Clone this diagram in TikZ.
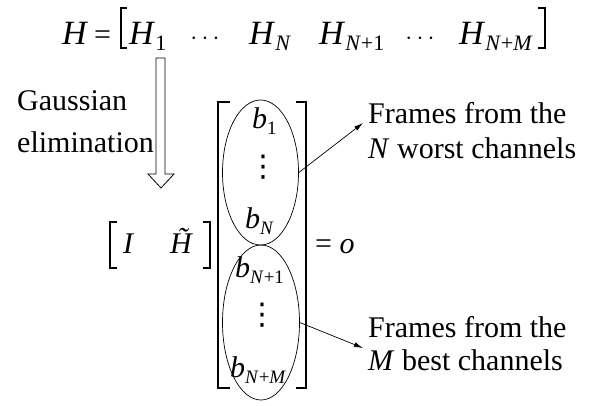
\documentclass[tikz,border=0pt]{standalone}
\usepackage{fontspec}
\setmainfont{Liberation Serif}
\newfontfamily\symf{DejaVu Sans}
\usetikzlibrary{shapes.geometric,arrows.meta}

% italic letter with a lowered, smaller subscript
\newcommand{\vb}[2]{\textit{#1}\raisebox{-6pt}{\fontsize{19}{19}\selectfont #2}}
\newcommand{\vbig}[2]{\textit{#1}\raisebox{-6pt}{\fontsize{22}{22}\selectfont #2}}
\newcommand{\vdt}{{\symf ⋮}}

\begin{document}
\begin{tikzpicture}[x=1pt,y=-1pt,
  every node/.style={font=\fontsize{30}{35}\selectfont, inner sep=0pt},
  lab/.style={anchor=base west},
  big/.style={font=\fontsize{34}{38}\selectfont},
  brk/.style={line width=1.1pt},
  ell/.style={draw, ellipse, line width=0.7pt, inner sep=0pt},
  pointer/.style={-{Latex[length=9pt,width=5pt]}, line width=0.7pt}]
  \useasboundingbox (0,0) rectangle (599,405);

  % H = [ ... ]
  \node[lab, big] (h) at (62,44) {\textit{H}};
  \node[lab] (eq) at (94,44) {=};
  \draw[brk] (127,8) -- (121,8) -- (121,48) -- (127,48);
  \node[lab, big] (h1) at (129,44) {\vbig{H}{1}};
  \node[anchor=base] (dl) at (205,44) {$\cdots$};
  \node[lab, big] (hn) at (249,44) {\vbig{H}{\textit{N}}};
  \node[lab, big] (hn1) at (319,44) {\vbig{H}{\textit{N}+1}};
  \node[anchor=base] (dr) at (420,44) {$\cdots$};
  \node[lab, big] (hnm) at (459,44) {\vbig{H}{\textit{N}+\textit{M}}};
  \draw[brk] (538,8) -- (545,8) -- (545,48) -- (538,48);

  % hollow arrow
  \draw[line width=0.8pt] (156,58) -- (156,174) -- (148,174) -- (161,188)
    -- (174,174) -- (165,174) -- (165,58) -- cycle;
  \node[lab] (gauss) at (17,110) {Gaussian};
  \node[lab] (elim) at (17,152) {elimination};

  % [I H~]
  \draw[brk] (117,222) -- (110,222) -- (110,268) -- (117,268);
  \node[lab] (id) at (123,253) {\textit{I}};
  \node[lab] (ht) at (170,253) {\textit{H̃}};
  \draw[brk] (203,222) -- (210,222) -- (210,268) -- (203,268);

  % vector b
  \draw[brk] (230,102) -- (218,102) -- (218,388) -- (230,388);
  \draw[brk] (296,102) -- (306,102) -- (306,388) -- (296,388);
  \node[ell, minimum width=76pt, minimum height=145pt] (upper) at (260.5,172.5) {};
  \node[ell, minimum width=77pt, minimum height=155pt] (lower) at (261,322.5) {};
  \node[lab] (b1) at (252,128) {\vb{b}{1}};
  \node (v1) at (263,167) {\vdt};
  \node[lab] (bn) at (245,228) {\vb{b}{\textit{N}}};
  \node[lab] (bn1) at (235,277) {\vb{b}{\textit{N}+1}};
  \node (v2) at (262,315) {\vdt};
  \node[lab] (bnm) at (230,377) {\vb{b}{\textit{N}+\textit{M}}};
  \node[lab] (zero) at (315,253) {= \textit{o}};

  % labels
  \node[lab] (w1) at (368,123) {Frames from the};
  \node[lab] (w2) at (368,158) {\textit{N} worst channels};
  \node[lab] (s1) at (368,337) {Frames from the};
  \node[lab] (s2) at (368,370) {\textit{M} best channels};
  \coordinate (tw) at (363,123);
  \coordinate (tb) at (363,348);
  \draw[pointer] (upper.east) -- (tw);
  \draw[pointer] (lower.east) -- (tb);
\end{tikzpicture}
\end{document}
